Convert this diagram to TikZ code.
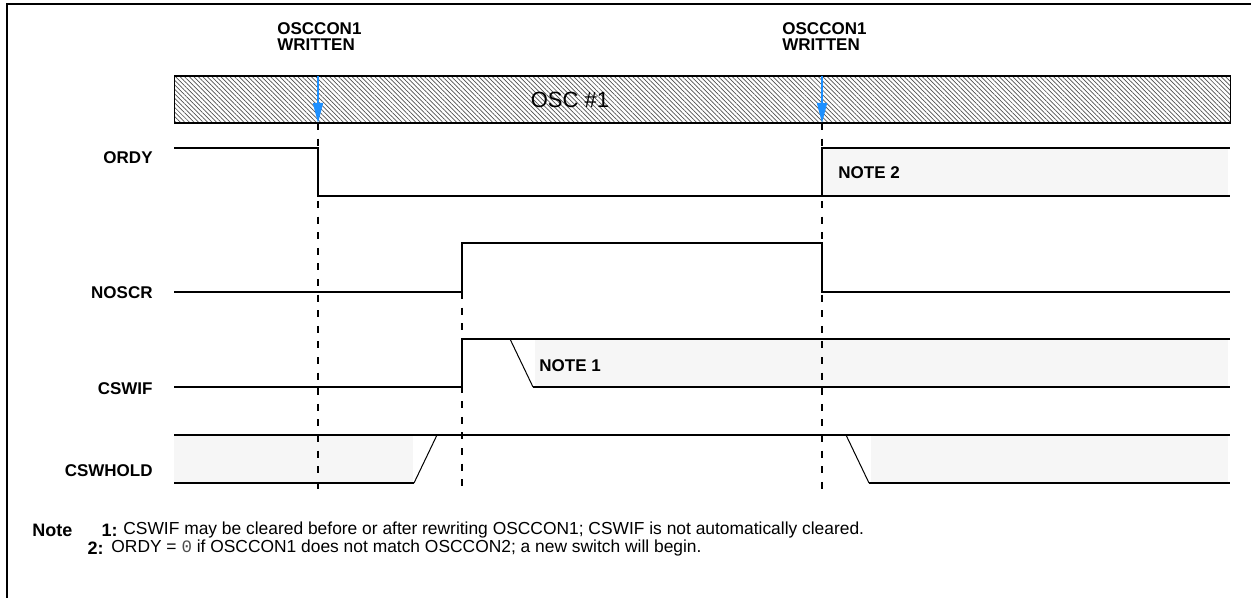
\documentclass[tikz,border=0pt]{standalone}
\usepackage{fontspec}
\setmainfont{Liberation Sans}
\setmonofont{Liberation Mono}
\usetikzlibrary{patterns.meta,arrows.meta}
\definecolor{markblue}{RGB}{30,144,255}
\definecolor{undefgray}{RGB}{246,246,246}
\definecolor{hatchgray}{RGB}{80,80,80}
\begin{document}
\begin{tikzpicture}[x=0.5pt, y=-0.5pt,
    signal/.style={line width=0.85pt},
    slope/.style={line width=0.5pt},
    guide/.style={line width=0.9pt, dash pattern=on 3.5pt off 4.3pt},
    writemark/.style={draw=markblue, line width=0.8pt, -{Triangle[length=10pt,width=5pt]}},
    siglabel/.style={font=\bfseries\fontsize{8.5}{10}\selectfont, anchor=east, inner sep=0pt},
    notetag/.style={font=\bfseries\fontsize{8.5}{10}\selectfont, anchor=west, inner sep=0pt},
    notenum/.style={font=\bfseries\fontsize{9}{10}\selectfont, inner sep=0pt},
    notetext/.style={font=\fontsize{8.7}{10}\selectfont, anchor=west, inner sep=0pt}]
    \useasboundingbox (0,0) rectangle (1251,598);

    % Open frame round the figure
    \draw[line width=1pt] (7,598) -- (7,4) -- (1251,4);

    % Event labels
    \node[notetag, align=left, font=\bfseries\fontsize{8.5}{8}\selectfont] (write1) at (277,37) {OSCCON1\\WRITTEN};
    \node[notetag, align=left, font=\bfseries\fontsize{8.5}{8}\selectfont] (write2) at (782,37) {OSCCON1\\WRITTEN};

    % Hatched oscillator bar
    \node[draw, line width=0.85pt, pattern={Lines[angle=-45, distance=1.6pt, line width=0.35pt]}, pattern color=hatchgray, minimum width=528pt, minimum height=23.5pt, anchor=north west, inner sep=0pt] (osc) at (174,76) {};
    \node[font=\fontsize{11}{13}\selectfont, inner sep=0pt] (osclabel) at (570,100) {OSC \#1};

    % Undefined regions
    \fill[undefgray] (822,148) rectangle (1228,196);
    \fill[undefgray] (535,339) rectangle (1228,387);
    \fill[undefgray] (174,435) rectangle (413,483);
    \fill[undefgray] (871,435) rectangle (1228,483);

    % Dashed guides
    \draw[guide] (318,123) -- (318,490);
    \draw[guide] (462,292) -- (462,490);
    \draw[guide] (822,123) -- (822,490);

    % Write markers
    \draw[writemark] (318,76) -- (318,123);
    \draw[writemark] (822,76) -- (822,123);

    % ORDY
    \draw[signal] (174,148) -- (318,148) -- (318,196) -- (1230,196);
    \draw[signal] (822,196) -- (822,148) -- (1230,148);
    \node[notetag] (note2) at (838,173) {NOTE 2};

    % NOSCR
    \draw[signal] (174,292) -- (462,292) -- (462,243) -- (822,243) -- (822,292) -- (1230,292);

    % CSWIF
    \draw[signal] (174,387) -- (462,387) -- (462,339) -- (1230,339);
    \draw[slope] (510,339) -- (533,387);
    \draw[signal] (533,387) -- (1230,387);
    \node[notetag] (note1) at (539,366) {NOTE 1};

    % CSWHOLD
    \draw[signal] (174,435) -- (1230,435);
    \draw[signal] (174,483) -- (414,483);
    \draw[slope] (414,483) -- (437,435);
    \draw[slope] (846,435) -- (869,483);
    \draw[signal] (869,483) -- (1230,483);

    % Signal names
    \node[siglabel] (ordy) at (153,158) {ORDY};
    \node[siglabel] (noscr) at (153,293) {NOSCR};
    \node[siglabel] (cswif) at (153,389) {CSWIF};
    \node[siglabel] (cswhold) at (153,471) {CSWHOLD};

    % Notes
    \node[notenum, anchor=west] (notehead) at (32,530) {Note};
    \node[notenum, anchor=east] (tag1) at (118,530) {1:};
    \node[notetext] (text1) at (123,530) {CSWIF may be cleared before or after rewriting OSCCON1; CSWIF is not automatically cleared.};
    \node[notenum, anchor=east] (tag2) at (104,548) {2:};
    \node[notetext] (text2) at (111,548) {ORDY = {\ttfamily\color{black!70}0} if OSCCON1 does not match OSCCON2; a new switch will begin.};
\end{tikzpicture}
\end{document}
